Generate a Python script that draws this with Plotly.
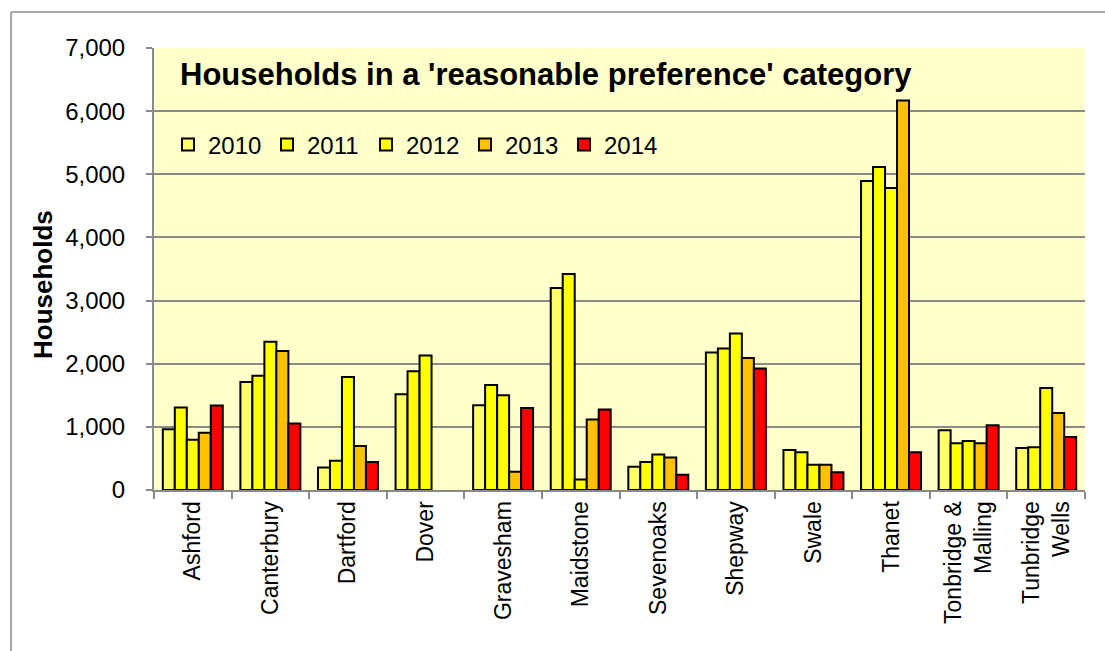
import plotly.graph_objects as go

districts = ["Ashford", "Canterbury", "Dartford", "Dover", "Gravesham", "Maidstone",
             "Sevenoaks", "Shepway", "Swale", "Thanet", "Tonbridge &<br>Malling",
             "Tunbridge<br>Wells"]
years = ["2010", "2011", "2012", "2013", "2014"]

v2010 = [963, 1711, 358, 1516, 1342, 3200, 368, 2179, 634, 4892, 946, 666]
v2011 = [1305, 1810, 463, 1879, 1663, 3421, 442, 2242, 597, 5114, 740, 676]
v2012 = [795, 2347, 1789, 2132, 1500, 168, 563, 2479, 401, 4781, 777, 1616]
v2013 = [905, 2200, 695, None, 289, 1116, 516, 2089, 401, 6170, 740, 1220]
v2014 = [1337, 1053, 442, None, 1300, 1274, 242, 1926, 280, 597, 1025, 840]
series = [v2010, v2011, v2012, v2013, v2014]
colors = ["#FFFF66", "#FFFF00", "#FFFF00", "#FFC000", "#FF0000"]

W, H = 1105, 651
ml, mr, mt, mb = 154, 20, 48, 161
pw, ph = W - ml - mr, H - mt - mb

def px_x(p):
    return (p - ml) / pw

def px_y(p):
    return 1 - (p - mt) / ph

fig = go.Figure()
for name, vals, c in zip(years, series, colors):
    fig.add_trace(go.Bar(x=districts, y=vals, name=name,
                         marker=dict(color=c, line=dict(color="black", width=2))))

font = "Arial, Liberation Sans, sans-serif"
grid = "#8a8a8a"
fig.update_layout(
    width=W, height=H,
    margin=dict(l=ml, r=mr, t=mt, b=mb, autoexpand=False),
    paper_bgcolor="white", plot_bgcolor="#FFFFCC",
    barmode="group", bargap=0.227, bargroupgap=0,
    font=dict(family=font, color="black"),
    showlegend=True,
    legend=dict(orientation="h", x=px_x(168), y=px_y(145), xanchor="left", yanchor="middle",
                bgcolor="rgba(0,0,0,0)", font=dict(size=24, family=font),
                entrywidth=54, entrywidthmode="pixels", itemwidth=30, traceorder="normal"),
    xaxis=dict(tickangle=-90, tickfont=dict(size=23, family=font), showline=True,
               linecolor=grid, linewidth=2, ticks="outside", tickson="boundaries",
               ticklen=7, tickcolor=grid, tickwidth=2, showgrid=False),
    yaxis=dict(range=[0, 7000], dtick=1000, tickformat=",", tickfont=dict(size=24, family=font),
               showline=True, linecolor=grid, linewidth=2, ticks="outside", ticklen=6,
               tickcolor=grid, tickwidth=2, showgrid=True, gridcolor=grid, gridwidth=2,
               zeroline=False, ticklabelstandoff=16),
    annotations=[dict(text="<b>Households in a 'reasonable preference' category</b>",
                      xref="paper", yref="paper", x=px_x(178), y=px_y(74),
                      xanchor="left", yanchor="middle", showarrow=False,
                      font=dict(size=31, family=font, color="black")),
                 dict(text="<b>Households</b>", textangle=-90,
                      xref="paper", yref="paper", x=px_x(43), y=px_y(285),
                      xanchor="center", yanchor="middle", showarrow=False,
                      font=dict(size=26, family=font, color="black"))],
    shapes=[dict(type="line", xref="paper", yref="paper", x0=px_x(11), x1=px_x(1110),
                 y0=px_y(12), y1=px_y(12), line=dict(color="#8a8a8a", width=1.5)),
            dict(type="line", xref="paper", yref="paper", x0=px_x(11), x1=px_x(11),
                 y0=px_y(12), y1=px_y(660), line=dict(color="#8a8a8a", width=1.5))],
)

fig.write_html("out.html")
